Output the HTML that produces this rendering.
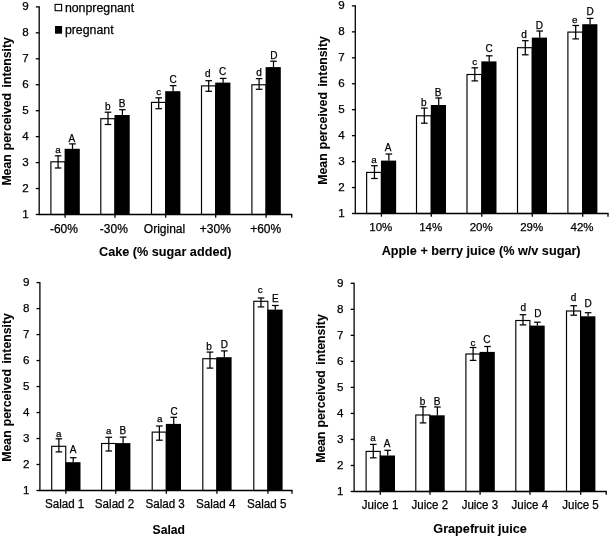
<!DOCTYPE html>
<html lang="en">
<head>
<meta charset="utf-8">
<title>Mean perceived intensity charts</title>
<style>
html,body{margin:0;padding:0;background:#fff;}
body{width:609px;height:537px;overflow:hidden;}
svg{display:block;font-family:"Liberation Sans", Arial, sans-serif;fill:#000;}
svg text{fill:#000;stroke:#000;stroke-width:0.25px;}
svg text.b{stroke-width:0.08px;}
</style>
</head>
<body>
<svg width="609" height="537" viewBox="0 0 609 537">
<rect x="0" y="0" width="609" height="537" fill="#fff"/>
<g>
<rect x="50.9" y="161.8" width="14.1" height="52.7" fill="#fff" stroke="#000" stroke-width="1.15"/>
<rect x="64.6" y="148.8" width="15.2" height="65.7" fill="#000"/>
<line x1="58.1" y1="155.8" x2="58.1" y2="168" stroke="#000" stroke-width="1.25"/>
<line x1="54.8" y1="155.8" x2="61.4" y2="155.8" stroke="#000" stroke-width="1.25"/>
<line x1="54.8" y1="168" x2="61.4" y2="168" stroke="#000" stroke-width="1.25"/>
<line x1="72.5" y1="143.9" x2="72.5" y2="148.9" stroke="#000" stroke-width="1.25"/>
<line x1="69.2" y1="143.9" x2="75.8" y2="143.9" stroke="#000" stroke-width="1.25"/>
<rect x="100.8" y="118.7" width="14.1" height="95.8" fill="#fff" stroke="#000" stroke-width="1.15"/>
<rect x="114.5" y="115" width="15.2" height="99.5" fill="#000"/>
<line x1="108" y1="112.2" x2="108" y2="124.5" stroke="#000" stroke-width="1.25"/>
<line x1="104.7" y1="112.2" x2="111.3" y2="112.2" stroke="#000" stroke-width="1.25"/>
<line x1="104.7" y1="124.5" x2="111.3" y2="124.5" stroke="#000" stroke-width="1.25"/>
<line x1="122.4" y1="109.7" x2="122.4" y2="115.1" stroke="#000" stroke-width="1.25"/>
<line x1="119.1" y1="109.7" x2="125.7" y2="109.7" stroke="#000" stroke-width="1.25"/>
<rect x="151.5" y="102.4" width="14.1" height="112.1" fill="#fff" stroke="#000" stroke-width="1.15"/>
<rect x="165.2" y="91.2" width="15.2" height="123.3" fill="#000"/>
<line x1="158.7" y1="97.8" x2="158.7" y2="108.7" stroke="#000" stroke-width="1.25"/>
<line x1="155.4" y1="97.8" x2="162" y2="97.8" stroke="#000" stroke-width="1.25"/>
<line x1="155.4" y1="108.7" x2="162" y2="108.7" stroke="#000" stroke-width="1.25"/>
<line x1="173.1" y1="85.6" x2="173.1" y2="91.3" stroke="#000" stroke-width="1.25"/>
<line x1="169.8" y1="85.6" x2="176.4" y2="85.6" stroke="#000" stroke-width="1.25"/>
<rect x="201.5" y="85.9" width="14.1" height="128.6" fill="#fff" stroke="#000" stroke-width="1.15"/>
<rect x="215.2" y="82.6" width="15.2" height="131.9" fill="#000"/>
<line x1="208.7" y1="80.7" x2="208.7" y2="91.3" stroke="#000" stroke-width="1.25"/>
<line x1="205.4" y1="80.7" x2="212" y2="80.7" stroke="#000" stroke-width="1.25"/>
<line x1="205.4" y1="91.3" x2="212" y2="91.3" stroke="#000" stroke-width="1.25"/>
<line x1="223.1" y1="78.4" x2="223.1" y2="82.7" stroke="#000" stroke-width="1.25"/>
<line x1="219.8" y1="78.4" x2="226.4" y2="78.4" stroke="#000" stroke-width="1.25"/>
<rect x="251.9" y="84.8" width="14.1" height="129.7" fill="#fff" stroke="#000" stroke-width="1.15"/>
<rect x="265.6" y="67.1" width="15.2" height="147.4" fill="#000"/>
<line x1="259.1" y1="78.6" x2="259.1" y2="89.3" stroke="#000" stroke-width="1.25"/>
<line x1="255.8" y1="78.6" x2="262.4" y2="78.6" stroke="#000" stroke-width="1.25"/>
<line x1="255.8" y1="89.3" x2="262.4" y2="89.3" stroke="#000" stroke-width="1.25"/>
<line x1="273.5" y1="61.2" x2="273.5" y2="67.2" stroke="#000" stroke-width="1.25"/>
<line x1="270.2" y1="61.2" x2="276.8" y2="61.2" stroke="#000" stroke-width="1.25"/>
<line x1="39.2" y1="6.3" x2="39.2" y2="215.1" stroke="#000" stroke-width="1.3"/>
<line x1="38.6" y1="214.5" x2="292.3" y2="214.5" stroke="#000" stroke-width="1.3"/>
<line x1="35.8" y1="214.5" x2="39.2" y2="214.5" stroke="#000" stroke-width="1.3"/>
<text x="28.6" y="217.95" font-size="11.6" text-anchor="end">1</text>
<line x1="35.8" y1="188.55" x2="39.2" y2="188.55" stroke="#000" stroke-width="1.3"/>
<text x="28.6" y="192" font-size="11.6" text-anchor="end">2</text>
<line x1="35.8" y1="162.6" x2="39.2" y2="162.6" stroke="#000" stroke-width="1.3"/>
<text x="28.6" y="166.05" font-size="11.6" text-anchor="end">3</text>
<line x1="35.8" y1="136.65" x2="39.2" y2="136.65" stroke="#000" stroke-width="1.3"/>
<text x="28.6" y="140.1" font-size="11.6" text-anchor="end">4</text>
<line x1="35.8" y1="110.7" x2="39.2" y2="110.7" stroke="#000" stroke-width="1.3"/>
<text x="28.6" y="114.15" font-size="11.6" text-anchor="end">5</text>
<line x1="35.8" y1="84.75" x2="39.2" y2="84.75" stroke="#000" stroke-width="1.3"/>
<text x="28.6" y="88.2" font-size="11.6" text-anchor="end">6</text>
<line x1="35.8" y1="58.8" x2="39.2" y2="58.8" stroke="#000" stroke-width="1.3"/>
<text x="28.6" y="62.25" font-size="11.6" text-anchor="end">7</text>
<line x1="35.8" y1="32.85" x2="39.2" y2="32.85" stroke="#000" stroke-width="1.3"/>
<text x="28.6" y="36.3" font-size="11.6" text-anchor="end">8</text>
<line x1="35.8" y1="6.9" x2="39.2" y2="6.9" stroke="#000" stroke-width="1.3"/>
<text x="28.6" y="10.35" font-size="11.6" text-anchor="end">9</text>
<line x1="65.1" y1="214.5" x2="65.1" y2="217.7" stroke="#000" stroke-width="1.3"/>
<text x="63.9" y="232.6" font-size="12.0" text-anchor="middle">-60%</text>
<line x1="115" y1="214.5" x2="115" y2="217.7" stroke="#000" stroke-width="1.3"/>
<text x="113.8" y="232.6" font-size="12.0" text-anchor="middle">-30%</text>
<line x1="165.7" y1="214.5" x2="165.7" y2="217.7" stroke="#000" stroke-width="1.3"/>
<text x="164.5" y="232.6" font-size="12.0" text-anchor="middle">Original</text>
<line x1="215.7" y1="214.5" x2="215.7" y2="217.7" stroke="#000" stroke-width="1.3"/>
<text x="215.3" y="232.6" font-size="12.0" text-anchor="middle">+30%</text>
<line x1="266.1" y1="214.5" x2="266.1" y2="217.7" stroke="#000" stroke-width="1.3"/>
<text x="265.7" y="232.6" font-size="12.0" text-anchor="middle">+60%</text>
<line x1="291.7" y1="214.5" x2="291.7" y2="217.7" stroke="#000" stroke-width="1.3"/>
<text x="58" y="153.3" font-size="9.8" text-anchor="middle">a</text>
<text x="71.8" y="141.9" font-size="10.0" text-anchor="middle">A</text>
<text x="107.8" y="109.5" font-size="10.0" text-anchor="middle">b</text>
<text x="122.1" y="107" font-size="10.0" text-anchor="middle">B</text>
<text x="158.8" y="94.9" font-size="9.8" text-anchor="middle">c</text>
<text x="173" y="83.2" font-size="10.0" text-anchor="middle">C</text>
<text x="207.8" y="77.2" font-size="10.0" text-anchor="middle">d</text>
<text x="222.7" y="74.7" font-size="10.0" text-anchor="middle">C</text>
<text x="259" y="76.1" font-size="10.0" text-anchor="middle">d</text>
<text x="273.9" y="59.4" font-size="10.0" text-anchor="middle">D</text>
<text class="b" transform="translate(10.9 185.6) rotate(-90)" font-size="12.25" font-weight="bold">Mean<tspan dx="0.7"> perceived</tspan><tspan dx="2.1"> intensity</tspan></text>
<text class="b" x="99" y="256.1" font-size="12.4" font-weight="bold" textLength="132.4" lengthAdjust="spacingAndGlyphs">Cake (% sugar added)</text>
<rect x="55.1" y="4.4" width="6.5" height="6.3" fill="#fff" stroke="#000" stroke-width="1.1"/>
<rect x="55" y="26" width="7.1" height="7.7" fill="#000"/>
<text x="64.9" y="11.9" font-size="12.33" text-anchor="start">nonpregnant</text>
<text x="64.9" y="34.1" font-size="12.33" text-anchor="start">pregnant</text>
</g>
<g>
<rect x="366.65" y="172.4" width="14.7" height="41.1" fill="#fff" stroke="#000" stroke-width="1.15"/>
<rect x="380.95" y="160.6" width="15.2" height="52.9" fill="#000"/>
<line x1="374.45" y1="165.7" x2="374.45" y2="178.5" stroke="#000" stroke-width="1.25"/>
<line x1="371.15" y1="165.7" x2="377.75" y2="165.7" stroke="#000" stroke-width="1.25"/>
<line x1="371.15" y1="178.5" x2="377.75" y2="178.5" stroke="#000" stroke-width="1.25"/>
<line x1="388.85" y1="154" x2="388.85" y2="160.7" stroke="#000" stroke-width="1.25"/>
<line x1="385.55" y1="154" x2="392.15" y2="154" stroke="#000" stroke-width="1.25"/>
<rect x="416.5" y="115.8" width="14.7" height="97.7" fill="#fff" stroke="#000" stroke-width="1.15"/>
<rect x="430.8" y="105" width="15.2" height="108.5" fill="#000"/>
<line x1="424.3" y1="108.1" x2="424.3" y2="123.2" stroke="#000" stroke-width="1.25"/>
<line x1="421" y1="108.1" x2="427.6" y2="108.1" stroke="#000" stroke-width="1.25"/>
<line x1="421" y1="123.2" x2="427.6" y2="123.2" stroke="#000" stroke-width="1.25"/>
<line x1="438.7" y1="98" x2="438.7" y2="105.1" stroke="#000" stroke-width="1.25"/>
<line x1="435.4" y1="98" x2="442" y2="98" stroke="#000" stroke-width="1.25"/>
<rect x="467" y="74.5" width="14.7" height="139" fill="#fff" stroke="#000" stroke-width="1.15"/>
<rect x="481.3" y="61.4" width="15.2" height="152.1" fill="#000"/>
<line x1="474.8" y1="67.8" x2="474.8" y2="80.9" stroke="#000" stroke-width="1.25"/>
<line x1="471.5" y1="67.8" x2="478.1" y2="67.8" stroke="#000" stroke-width="1.25"/>
<line x1="471.5" y1="80.9" x2="478.1" y2="80.9" stroke="#000" stroke-width="1.25"/>
<line x1="489.2" y1="55.8" x2="489.2" y2="61.5" stroke="#000" stroke-width="1.25"/>
<line x1="485.9" y1="55.8" x2="492.5" y2="55.8" stroke="#000" stroke-width="1.25"/>
<rect x="517.5" y="47.7" width="14.7" height="165.8" fill="#fff" stroke="#000" stroke-width="1.15"/>
<rect x="531.8" y="37.6" width="15.2" height="175.9" fill="#000"/>
<line x1="525.3" y1="40.7" x2="525.3" y2="54.8" stroke="#000" stroke-width="1.25"/>
<line x1="522" y1="40.7" x2="528.6" y2="40.7" stroke="#000" stroke-width="1.25"/>
<line x1="522" y1="54.8" x2="528.6" y2="54.8" stroke="#000" stroke-width="1.25"/>
<line x1="539.7" y1="31" x2="539.7" y2="37.7" stroke="#000" stroke-width="1.25"/>
<line x1="536.4" y1="31" x2="543" y2="31" stroke="#000" stroke-width="1.25"/>
<rect x="567.9" y="32.1" width="14.7" height="181.4" fill="#fff" stroke="#000" stroke-width="1.15"/>
<rect x="582.2" y="24.2" width="15.2" height="189.3" fill="#000"/>
<line x1="575.7" y1="25.5" x2="575.7" y2="38.9" stroke="#000" stroke-width="1.25"/>
<line x1="572.4" y1="25.5" x2="579" y2="25.5" stroke="#000" stroke-width="1.25"/>
<line x1="572.4" y1="38.9" x2="579" y2="38.9" stroke="#000" stroke-width="1.25"/>
<line x1="590.1" y1="18.4" x2="590.1" y2="24.3" stroke="#000" stroke-width="1.25"/>
<line x1="586.8" y1="18.4" x2="593.4" y2="18.4" stroke="#000" stroke-width="1.25"/>
<line x1="355.3" y1="5.3" x2="355.3" y2="214.1" stroke="#000" stroke-width="1.3"/>
<line x1="354.7" y1="213.5" x2="608.6" y2="213.5" stroke="#000" stroke-width="1.3"/>
<line x1="351.9" y1="213.5" x2="355.3" y2="213.5" stroke="#000" stroke-width="1.3"/>
<text x="344.6" y="216.95" font-size="11.6" text-anchor="end">1</text>
<line x1="351.9" y1="187.55" x2="355.3" y2="187.55" stroke="#000" stroke-width="1.3"/>
<text x="344.6" y="191" font-size="11.6" text-anchor="end">2</text>
<line x1="351.9" y1="161.6" x2="355.3" y2="161.6" stroke="#000" stroke-width="1.3"/>
<text x="344.6" y="165.05" font-size="11.6" text-anchor="end">3</text>
<line x1="351.9" y1="135.65" x2="355.3" y2="135.65" stroke="#000" stroke-width="1.3"/>
<text x="344.6" y="139.1" font-size="11.6" text-anchor="end">4</text>
<line x1="351.9" y1="109.7" x2="355.3" y2="109.7" stroke="#000" stroke-width="1.3"/>
<text x="344.6" y="113.15" font-size="11.6" text-anchor="end">5</text>
<line x1="351.9" y1="83.75" x2="355.3" y2="83.75" stroke="#000" stroke-width="1.3"/>
<text x="344.6" y="87.2" font-size="11.6" text-anchor="end">6</text>
<line x1="351.9" y1="57.8" x2="355.3" y2="57.8" stroke="#000" stroke-width="1.3"/>
<text x="344.6" y="61.25" font-size="11.6" text-anchor="end">7</text>
<line x1="351.9" y1="31.85" x2="355.3" y2="31.85" stroke="#000" stroke-width="1.3"/>
<text x="344.6" y="35.3" font-size="11.6" text-anchor="end">8</text>
<line x1="351.9" y1="5.9" x2="355.3" y2="5.9" stroke="#000" stroke-width="1.3"/>
<text x="344.6" y="9.35" font-size="11.6" text-anchor="end">9</text>
<line x1="381.45" y1="213.5" x2="381.45" y2="216.7" stroke="#000" stroke-width="1.3"/>
<text x="380.85" y="231.3" font-size="11.5" text-anchor="middle">10%</text>
<line x1="431.3" y1="213.5" x2="431.3" y2="216.7" stroke="#000" stroke-width="1.3"/>
<text x="430.7" y="231.3" font-size="11.5" text-anchor="middle">14%</text>
<line x1="481.8" y1="213.5" x2="481.8" y2="216.7" stroke="#000" stroke-width="1.3"/>
<text x="481.2" y="231.3" font-size="11.5" text-anchor="middle">20%</text>
<line x1="532.3" y1="213.5" x2="532.3" y2="216.7" stroke="#000" stroke-width="1.3"/>
<text x="531.7" y="231.3" font-size="11.5" text-anchor="middle">29%</text>
<line x1="582.7" y1="213.5" x2="582.7" y2="216.7" stroke="#000" stroke-width="1.3"/>
<text x="582.1" y="231.3" font-size="11.5" text-anchor="middle">42%</text>
<line x1="608" y1="213.5" x2="608" y2="216.7" stroke="#000" stroke-width="1.3"/>
<text x="373.9" y="162.5" font-size="9.8" text-anchor="middle">a</text>
<text x="388.2" y="151.3" font-size="10.0" text-anchor="middle">A</text>
<text x="423.7" y="105.9" font-size="10.0" text-anchor="middle">b</text>
<text x="438.2" y="95.6" font-size="10.0" text-anchor="middle">B</text>
<text x="474.8" y="64.8" font-size="9.8" text-anchor="middle">c</text>
<text x="489" y="52.3" font-size="10.0" text-anchor="middle">C</text>
<text x="524" y="37.7" font-size="10.0" text-anchor="middle">d</text>
<text x="539.3" y="28.5" font-size="10.0" text-anchor="middle">D</text>
<text x="574.8" y="23.1" font-size="9.8" text-anchor="middle">e</text>
<text x="590.2" y="15.4" font-size="10.0" text-anchor="middle">D</text>
<text class="b" transform="translate(326.5 184.7) rotate(-90)" font-size="12.25" font-weight="bold">Mean<tspan dx="0.7"> perceived</tspan><tspan dx="2.1"> intensity</tspan></text>
<text class="b" x="381.7" y="254.6" font-size="12.4" font-weight="bold" textLength="198.9" lengthAdjust="spacingAndGlyphs">Apple + berry juice (% w/v sugar)</text>
</g>
<g>
<rect x="51.7" y="446.3" width="14.05" height="44.2" fill="#fff" stroke="#000" stroke-width="1.15"/>
<rect x="65.35" y="462.2" width="15.15" height="28.3" fill="#000"/>
<line x1="58.88" y1="438.8" x2="58.88" y2="451.9" stroke="#000" stroke-width="1.25"/>
<line x1="55.58" y1="438.8" x2="62.17" y2="438.8" stroke="#000" stroke-width="1.25"/>
<line x1="55.58" y1="451.9" x2="62.17" y2="451.9" stroke="#000" stroke-width="1.25"/>
<line x1="73.23" y1="457.7" x2="73.23" y2="462.3" stroke="#000" stroke-width="1.25"/>
<line x1="69.93" y1="457.7" x2="76.53" y2="457.7" stroke="#000" stroke-width="1.25"/>
<rect x="101.6" y="443.5" width="14.05" height="47" fill="#fff" stroke="#000" stroke-width="1.15"/>
<rect x="115.25" y="443.1" width="15.15" height="47.4" fill="#000"/>
<line x1="108.78" y1="437.3" x2="108.78" y2="451" stroke="#000" stroke-width="1.25"/>
<line x1="105.48" y1="437.3" x2="112.08" y2="437.3" stroke="#000" stroke-width="1.25"/>
<line x1="105.48" y1="451" x2="112.08" y2="451" stroke="#000" stroke-width="1.25"/>
<line x1="123.12" y1="437.1" x2="123.12" y2="443.2" stroke="#000" stroke-width="1.25"/>
<line x1="119.83" y1="437.1" x2="126.42" y2="437.1" stroke="#000" stroke-width="1.25"/>
<rect x="152.2" y="432.1" width="14.05" height="58.4" fill="#fff" stroke="#000" stroke-width="1.15"/>
<rect x="165.85" y="423.9" width="15.15" height="66.6" fill="#000"/>
<line x1="159.38" y1="426" x2="159.38" y2="440.2" stroke="#000" stroke-width="1.25"/>
<line x1="156.07" y1="426" x2="162.68" y2="426" stroke="#000" stroke-width="1.25"/>
<line x1="156.07" y1="440.2" x2="162.68" y2="440.2" stroke="#000" stroke-width="1.25"/>
<line x1="173.72" y1="417.3" x2="173.72" y2="424" stroke="#000" stroke-width="1.25"/>
<line x1="170.42" y1="417.3" x2="177.02" y2="417.3" stroke="#000" stroke-width="1.25"/>
<rect x="202.8" y="358.7" width="14.05" height="131.8" fill="#fff" stroke="#000" stroke-width="1.15"/>
<rect x="216.45" y="357.2" width="15.15" height="133.3" fill="#000"/>
<line x1="209.98" y1="352.1" x2="209.98" y2="368.1" stroke="#000" stroke-width="1.25"/>
<line x1="206.68" y1="352.1" x2="213.28" y2="352.1" stroke="#000" stroke-width="1.25"/>
<line x1="206.68" y1="368.1" x2="213.28" y2="368.1" stroke="#000" stroke-width="1.25"/>
<line x1="224.32" y1="350.9" x2="224.32" y2="357.3" stroke="#000" stroke-width="1.25"/>
<line x1="221.02" y1="350.9" x2="227.62" y2="350.9" stroke="#000" stroke-width="1.25"/>
<rect x="253.8" y="301.3" width="14.05" height="189.2" fill="#fff" stroke="#000" stroke-width="1.15"/>
<rect x="267.45" y="309.6" width="15.15" height="180.9" fill="#000"/>
<line x1="260.97" y1="298" x2="260.97" y2="306.9" stroke="#000" stroke-width="1.25"/>
<line x1="257.67" y1="298" x2="264.27" y2="298" stroke="#000" stroke-width="1.25"/>
<line x1="257.67" y1="306.9" x2="264.27" y2="306.9" stroke="#000" stroke-width="1.25"/>
<line x1="275.32" y1="305.5" x2="275.32" y2="309.7" stroke="#000" stroke-width="1.25"/>
<line x1="272.02" y1="305.5" x2="278.62" y2="305.5" stroke="#000" stroke-width="1.25"/>
<line x1="39.9" y1="282" x2="39.9" y2="491.1" stroke="#000" stroke-width="1.3"/>
<line x1="39.3" y1="490.5" x2="292.6" y2="490.5" stroke="#000" stroke-width="1.3"/>
<line x1="36.5" y1="490.5" x2="39.9" y2="490.5" stroke="#000" stroke-width="1.3"/>
<text x="29.4" y="493.95" font-size="11.6" text-anchor="end">1</text>
<line x1="36.5" y1="464.51" x2="39.9" y2="464.51" stroke="#000" stroke-width="1.3"/>
<text x="29.4" y="467.96" font-size="11.6" text-anchor="end">2</text>
<line x1="36.5" y1="438.52" x2="39.9" y2="438.52" stroke="#000" stroke-width="1.3"/>
<text x="29.4" y="441.97" font-size="11.6" text-anchor="end">3</text>
<line x1="36.5" y1="412.54" x2="39.9" y2="412.54" stroke="#000" stroke-width="1.3"/>
<text x="29.4" y="415.99" font-size="11.6" text-anchor="end">4</text>
<line x1="36.5" y1="386.55" x2="39.9" y2="386.55" stroke="#000" stroke-width="1.3"/>
<text x="29.4" y="390" font-size="11.6" text-anchor="end">5</text>
<line x1="36.5" y1="360.56" x2="39.9" y2="360.56" stroke="#000" stroke-width="1.3"/>
<text x="29.4" y="364.01" font-size="11.6" text-anchor="end">6</text>
<line x1="36.5" y1="334.58" x2="39.9" y2="334.58" stroke="#000" stroke-width="1.3"/>
<text x="29.4" y="338.03" font-size="11.6" text-anchor="end">7</text>
<line x1="36.5" y1="308.59" x2="39.9" y2="308.59" stroke="#000" stroke-width="1.3"/>
<text x="29.4" y="312.04" font-size="11.6" text-anchor="end">8</text>
<line x1="36.5" y1="282.6" x2="39.9" y2="282.6" stroke="#000" stroke-width="1.3"/>
<text x="29.4" y="286.05" font-size="11.6" text-anchor="end">9</text>
<line x1="65.85" y1="490.5" x2="65.85" y2="493.7" stroke="#000" stroke-width="1.3"/>
<text x="64.65" y="508.3" font-size="12.3" text-anchor="middle" textLength="39.4" lengthAdjust="spacingAndGlyphs">Salad 1</text>
<line x1="115.75" y1="490.5" x2="115.75" y2="493.7" stroke="#000" stroke-width="1.3"/>
<text x="114.55" y="508.3" font-size="12.3" text-anchor="middle" textLength="39.4" lengthAdjust="spacingAndGlyphs">Salad 2</text>
<line x1="166.35" y1="490.5" x2="166.35" y2="493.7" stroke="#000" stroke-width="1.3"/>
<text x="165.15" y="508.3" font-size="12.3" text-anchor="middle" textLength="39.4" lengthAdjust="spacingAndGlyphs">Salad 3</text>
<line x1="216.95" y1="490.5" x2="216.95" y2="493.7" stroke="#000" stroke-width="1.3"/>
<text x="215.75" y="508.3" font-size="12.3" text-anchor="middle" textLength="39.4" lengthAdjust="spacingAndGlyphs">Salad 4</text>
<line x1="267.95" y1="490.5" x2="267.95" y2="493.7" stroke="#000" stroke-width="1.3"/>
<text x="266.75" y="508.3" font-size="12.3" text-anchor="middle" textLength="39.4" lengthAdjust="spacingAndGlyphs">Salad 5</text>
<line x1="292" y1="490.5" x2="292" y2="493.7" stroke="#000" stroke-width="1.3"/>
<text x="58.8" y="436.8" font-size="9.8" text-anchor="middle">a</text>
<text x="73" y="452.9" font-size="10.0" text-anchor="middle">A</text>
<text x="108.7" y="433.8" font-size="9.8" text-anchor="middle">a</text>
<text x="122.9" y="433.8" font-size="10.0" text-anchor="middle">B</text>
<text x="159.8" y="422" font-size="9.8" text-anchor="middle">a</text>
<text x="174" y="414.5" font-size="10.0" text-anchor="middle">C</text>
<text x="209" y="349.5" font-size="10.0" text-anchor="middle">b</text>
<text x="224.3" y="348" font-size="10.0" text-anchor="middle">D</text>
<text x="260.3" y="292.6" font-size="9.8" text-anchor="middle">c</text>
<text x="275.4" y="301.5" font-size="10.0" text-anchor="middle">E</text>
<text class="b" transform="translate(10.5 461.7) rotate(-90)" font-size="12.25" font-weight="bold">Mean<tspan dx="0.7"> perceived</tspan><tspan dx="2.1"> intensity</tspan></text>
<text class="b" x="152.6" y="534.3" font-size="13.2" font-weight="bold" textLength="32.4" lengthAdjust="spacingAndGlyphs">Salad</text>
</g>
<g>
<rect x="366.1" y="451.4" width="14.1" height="40.1" fill="#fff" stroke="#000" stroke-width="1.15"/>
<rect x="379.8" y="455.5" width="15.2" height="36" fill="#000"/>
<line x1="373.3" y1="444.4" x2="373.3" y2="457.8" stroke="#000" stroke-width="1.25"/>
<line x1="370" y1="444.4" x2="376.6" y2="444.4" stroke="#000" stroke-width="1.25"/>
<line x1="370" y1="457.8" x2="376.6" y2="457.8" stroke="#000" stroke-width="1.25"/>
<line x1="387.7" y1="450.3" x2="387.7" y2="455.6" stroke="#000" stroke-width="1.25"/>
<line x1="384.4" y1="450.3" x2="391" y2="450.3" stroke="#000" stroke-width="1.25"/>
<rect x="415.8" y="415" width="14.1" height="76.5" fill="#fff" stroke="#000" stroke-width="1.15"/>
<rect x="429.5" y="415.3" width="15.2" height="76.2" fill="#000"/>
<line x1="423" y1="406.7" x2="423" y2="422.9" stroke="#000" stroke-width="1.25"/>
<line x1="419.7" y1="406.7" x2="426.3" y2="406.7" stroke="#000" stroke-width="1.25"/>
<line x1="419.7" y1="422.9" x2="426.3" y2="422.9" stroke="#000" stroke-width="1.25"/>
<line x1="437.4" y1="407" x2="437.4" y2="415.4" stroke="#000" stroke-width="1.25"/>
<line x1="434.1" y1="407" x2="440.7" y2="407" stroke="#000" stroke-width="1.25"/>
<rect x="465.9" y="354" width="14.1" height="137.5" fill="#fff" stroke="#000" stroke-width="1.15"/>
<rect x="479.6" y="351.9" width="15.2" height="139.6" fill="#000"/>
<line x1="473.1" y1="347.5" x2="473.1" y2="360.4" stroke="#000" stroke-width="1.25"/>
<line x1="469.8" y1="347.5" x2="476.4" y2="347.5" stroke="#000" stroke-width="1.25"/>
<line x1="469.8" y1="360.4" x2="476.4" y2="360.4" stroke="#000" stroke-width="1.25"/>
<line x1="487.5" y1="346.5" x2="487.5" y2="352" stroke="#000" stroke-width="1.25"/>
<line x1="484.2" y1="346.5" x2="490.8" y2="346.5" stroke="#000" stroke-width="1.25"/>
<rect x="515.8" y="320.5" width="14.1" height="171" fill="#fff" stroke="#000" stroke-width="1.15"/>
<rect x="529.5" y="325.6" width="15.2" height="165.9" fill="#000"/>
<line x1="523" y1="314.7" x2="523" y2="324.9" stroke="#000" stroke-width="1.25"/>
<line x1="519.7" y1="314.7" x2="526.3" y2="314.7" stroke="#000" stroke-width="1.25"/>
<line x1="519.7" y1="324.9" x2="526.3" y2="324.9" stroke="#000" stroke-width="1.25"/>
<line x1="537.4" y1="322.2" x2="537.4" y2="325.7" stroke="#000" stroke-width="1.25"/>
<line x1="534.1" y1="322.2" x2="540.7" y2="322.2" stroke="#000" stroke-width="1.25"/>
<rect x="566.5" y="311" width="14.1" height="180.5" fill="#fff" stroke="#000" stroke-width="1.15"/>
<rect x="580.2" y="316.3" width="15.2" height="175.2" fill="#000"/>
<line x1="573.7" y1="305.7" x2="573.7" y2="315.2" stroke="#000" stroke-width="1.25"/>
<line x1="570.4" y1="305.7" x2="577" y2="305.7" stroke="#000" stroke-width="1.25"/>
<line x1="570.4" y1="315.2" x2="577" y2="315.2" stroke="#000" stroke-width="1.25"/>
<line x1="588.1" y1="312.7" x2="588.1" y2="316.4" stroke="#000" stroke-width="1.25"/>
<line x1="584.8" y1="312.7" x2="591.4" y2="312.7" stroke="#000" stroke-width="1.25"/>
<line x1="354.1" y1="282.7" x2="354.1" y2="492.1" stroke="#000" stroke-width="1.3"/>
<line x1="353.5" y1="491.5" x2="606.8" y2="491.5" stroke="#000" stroke-width="1.3"/>
<line x1="350.7" y1="491.5" x2="354.1" y2="491.5" stroke="#000" stroke-width="1.3"/>
<text x="343.4" y="494.95" font-size="11.6" text-anchor="end">1</text>
<line x1="350.7" y1="465.48" x2="354.1" y2="465.48" stroke="#000" stroke-width="1.3"/>
<text x="343.4" y="468.93" font-size="11.6" text-anchor="end">2</text>
<line x1="350.7" y1="439.45" x2="354.1" y2="439.45" stroke="#000" stroke-width="1.3"/>
<text x="343.4" y="442.9" font-size="11.6" text-anchor="end">3</text>
<line x1="350.7" y1="413.43" x2="354.1" y2="413.43" stroke="#000" stroke-width="1.3"/>
<text x="343.4" y="416.88" font-size="11.6" text-anchor="end">4</text>
<line x1="350.7" y1="387.4" x2="354.1" y2="387.4" stroke="#000" stroke-width="1.3"/>
<text x="343.4" y="390.85" font-size="11.6" text-anchor="end">5</text>
<line x1="350.7" y1="361.38" x2="354.1" y2="361.38" stroke="#000" stroke-width="1.3"/>
<text x="343.4" y="364.82" font-size="11.6" text-anchor="end">6</text>
<line x1="350.7" y1="335.35" x2="354.1" y2="335.35" stroke="#000" stroke-width="1.3"/>
<text x="343.4" y="338.8" font-size="11.6" text-anchor="end">7</text>
<line x1="350.7" y1="309.33" x2="354.1" y2="309.33" stroke="#000" stroke-width="1.3"/>
<text x="343.4" y="312.78" font-size="11.6" text-anchor="end">8</text>
<line x1="350.7" y1="283.3" x2="354.1" y2="283.3" stroke="#000" stroke-width="1.3"/>
<text x="343.4" y="286.75" font-size="11.6" text-anchor="end">9</text>
<line x1="380.3" y1="491.5" x2="380.3" y2="494.7" stroke="#000" stroke-width="1.3"/>
<text x="380.1" y="509.1" font-size="12.3" text-anchor="middle" textLength="36.5" lengthAdjust="spacingAndGlyphs">Juice 1</text>
<line x1="430" y1="491.5" x2="430" y2="494.7" stroke="#000" stroke-width="1.3"/>
<text x="429.8" y="509.1" font-size="12.3" text-anchor="middle" textLength="36.5" lengthAdjust="spacingAndGlyphs">Juice 2</text>
<line x1="480.1" y1="491.5" x2="480.1" y2="494.7" stroke="#000" stroke-width="1.3"/>
<text x="479.9" y="509.1" font-size="12.3" text-anchor="middle" textLength="36.5" lengthAdjust="spacingAndGlyphs">Juice 3</text>
<line x1="530" y1="491.5" x2="530" y2="494.7" stroke="#000" stroke-width="1.3"/>
<text x="529.8" y="509.1" font-size="12.3" text-anchor="middle" textLength="36.5" lengthAdjust="spacingAndGlyphs">Juice 4</text>
<line x1="580.7" y1="491.5" x2="580.7" y2="494.7" stroke="#000" stroke-width="1.3"/>
<text x="580.5" y="509.1" font-size="12.3" text-anchor="middle" textLength="36.5" lengthAdjust="spacingAndGlyphs">Juice 5</text>
<line x1="606.2" y1="491.5" x2="606.2" y2="494.7" stroke="#000" stroke-width="1.3"/>
<text x="372.9" y="441.4" font-size="9.8" text-anchor="middle">a</text>
<text x="387.2" y="447.4" font-size="10.0" text-anchor="middle">A</text>
<text x="422.5" y="404.7" font-size="10.0" text-anchor="middle">b</text>
<text x="437" y="404.7" font-size="10.0" text-anchor="middle">B</text>
<text x="472.9" y="345.7" font-size="9.8" text-anchor="middle">c</text>
<text x="486.8" y="342.8" font-size="10.0" text-anchor="middle">C</text>
<text x="523.2" y="311" font-size="10.0" text-anchor="middle">d</text>
<text x="537.9" y="316.9" font-size="10.0" text-anchor="middle">D</text>
<text x="573.5" y="301.3" font-size="10.0" text-anchor="middle">d</text>
<text x="588.2" y="306.9" font-size="10.0" text-anchor="middle">D</text>
<text class="b" transform="translate(324.6 462.8) rotate(-90)" font-size="12.25" font-weight="bold">Mean<tspan dx="0.7"> perceived</tspan><tspan dx="2.1"> intensity</tspan></text>
<text class="b" x="433.3" y="532.9" font-size="12.4" font-weight="bold" textLength="93.6" lengthAdjust="spacingAndGlyphs">Grapefruit juice</text>
</g>
</svg>
</body>
</html>
